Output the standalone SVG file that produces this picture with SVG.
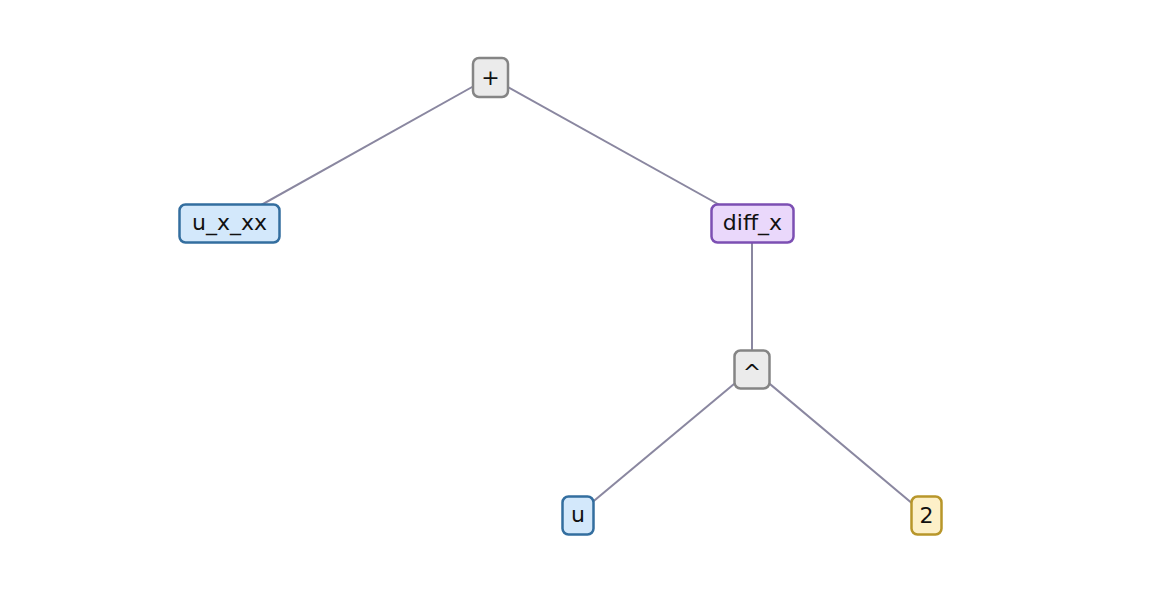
<svg xmlns="http://www.w3.org/2000/svg" width="1156" height="594" viewBox="0 0 1156 594">
<style>
.e{stroke:#8a87a0;stroke-width:2;fill:none}
rect{stroke-width:2.5}
.op{fill:#ebebeb;stroke:#858585}
.var{fill:#d3e8fb;stroke:#336e9f}
.fn{fill:#ead8fb;stroke:#7c4fb3}
.num{fill:#fdf0c8;stroke:#b8962a}
text{font-family:"DejaVu Sans",sans-serif;font-size:22px;fill:#111;text-anchor:middle;dominant-baseline:central}
</style>
<rect width="1156" height="594" fill="#fff"/>
<g id="edges">
<line class="e" x1="490" y1="77" x2="229" y2="223"/>
<line class="e" x1="490" y1="77" x2="752" y2="223"/>
<line class="e" x1="752" y1="223" x2="752" y2="369"/>
<line class="e" x1="752" y1="369" x2="577" y2="515"/>
<line class="e" x1="752" y1="369" x2="926" y2="515"/>
</g>
<g id="plus"><rect class="op" x="473" y="58" width="35" height="39" rx="6"/><text x="490.5" y="77">+</text></g>
<g id="uxxx"><rect class="var" x="179.5" y="204.5" width="100" height="38" rx="6"/><text x="229.5" y="222">u_x_xx</text></g>
<g id="diffx"><rect class="fn" x="711.5" y="204.5" width="82" height="38" rx="6"/><text x="752.5" y="222">diff_x</text></g>
<g id="pow"><rect class="op" x="734.5" y="350.5" width="35" height="38" rx="6"/><text x="752" y="372">^</text></g>
<g id="u"><rect class="var" x="562.5" y="496.5" width="31" height="38" rx="6"/><text x="578" y="514">u</text></g>
<g id="two"><rect class="num" x="911.5" y="496.5" width="30" height="38" rx="6"/><text x="926.5" y="515">2</text></g>
</svg>
